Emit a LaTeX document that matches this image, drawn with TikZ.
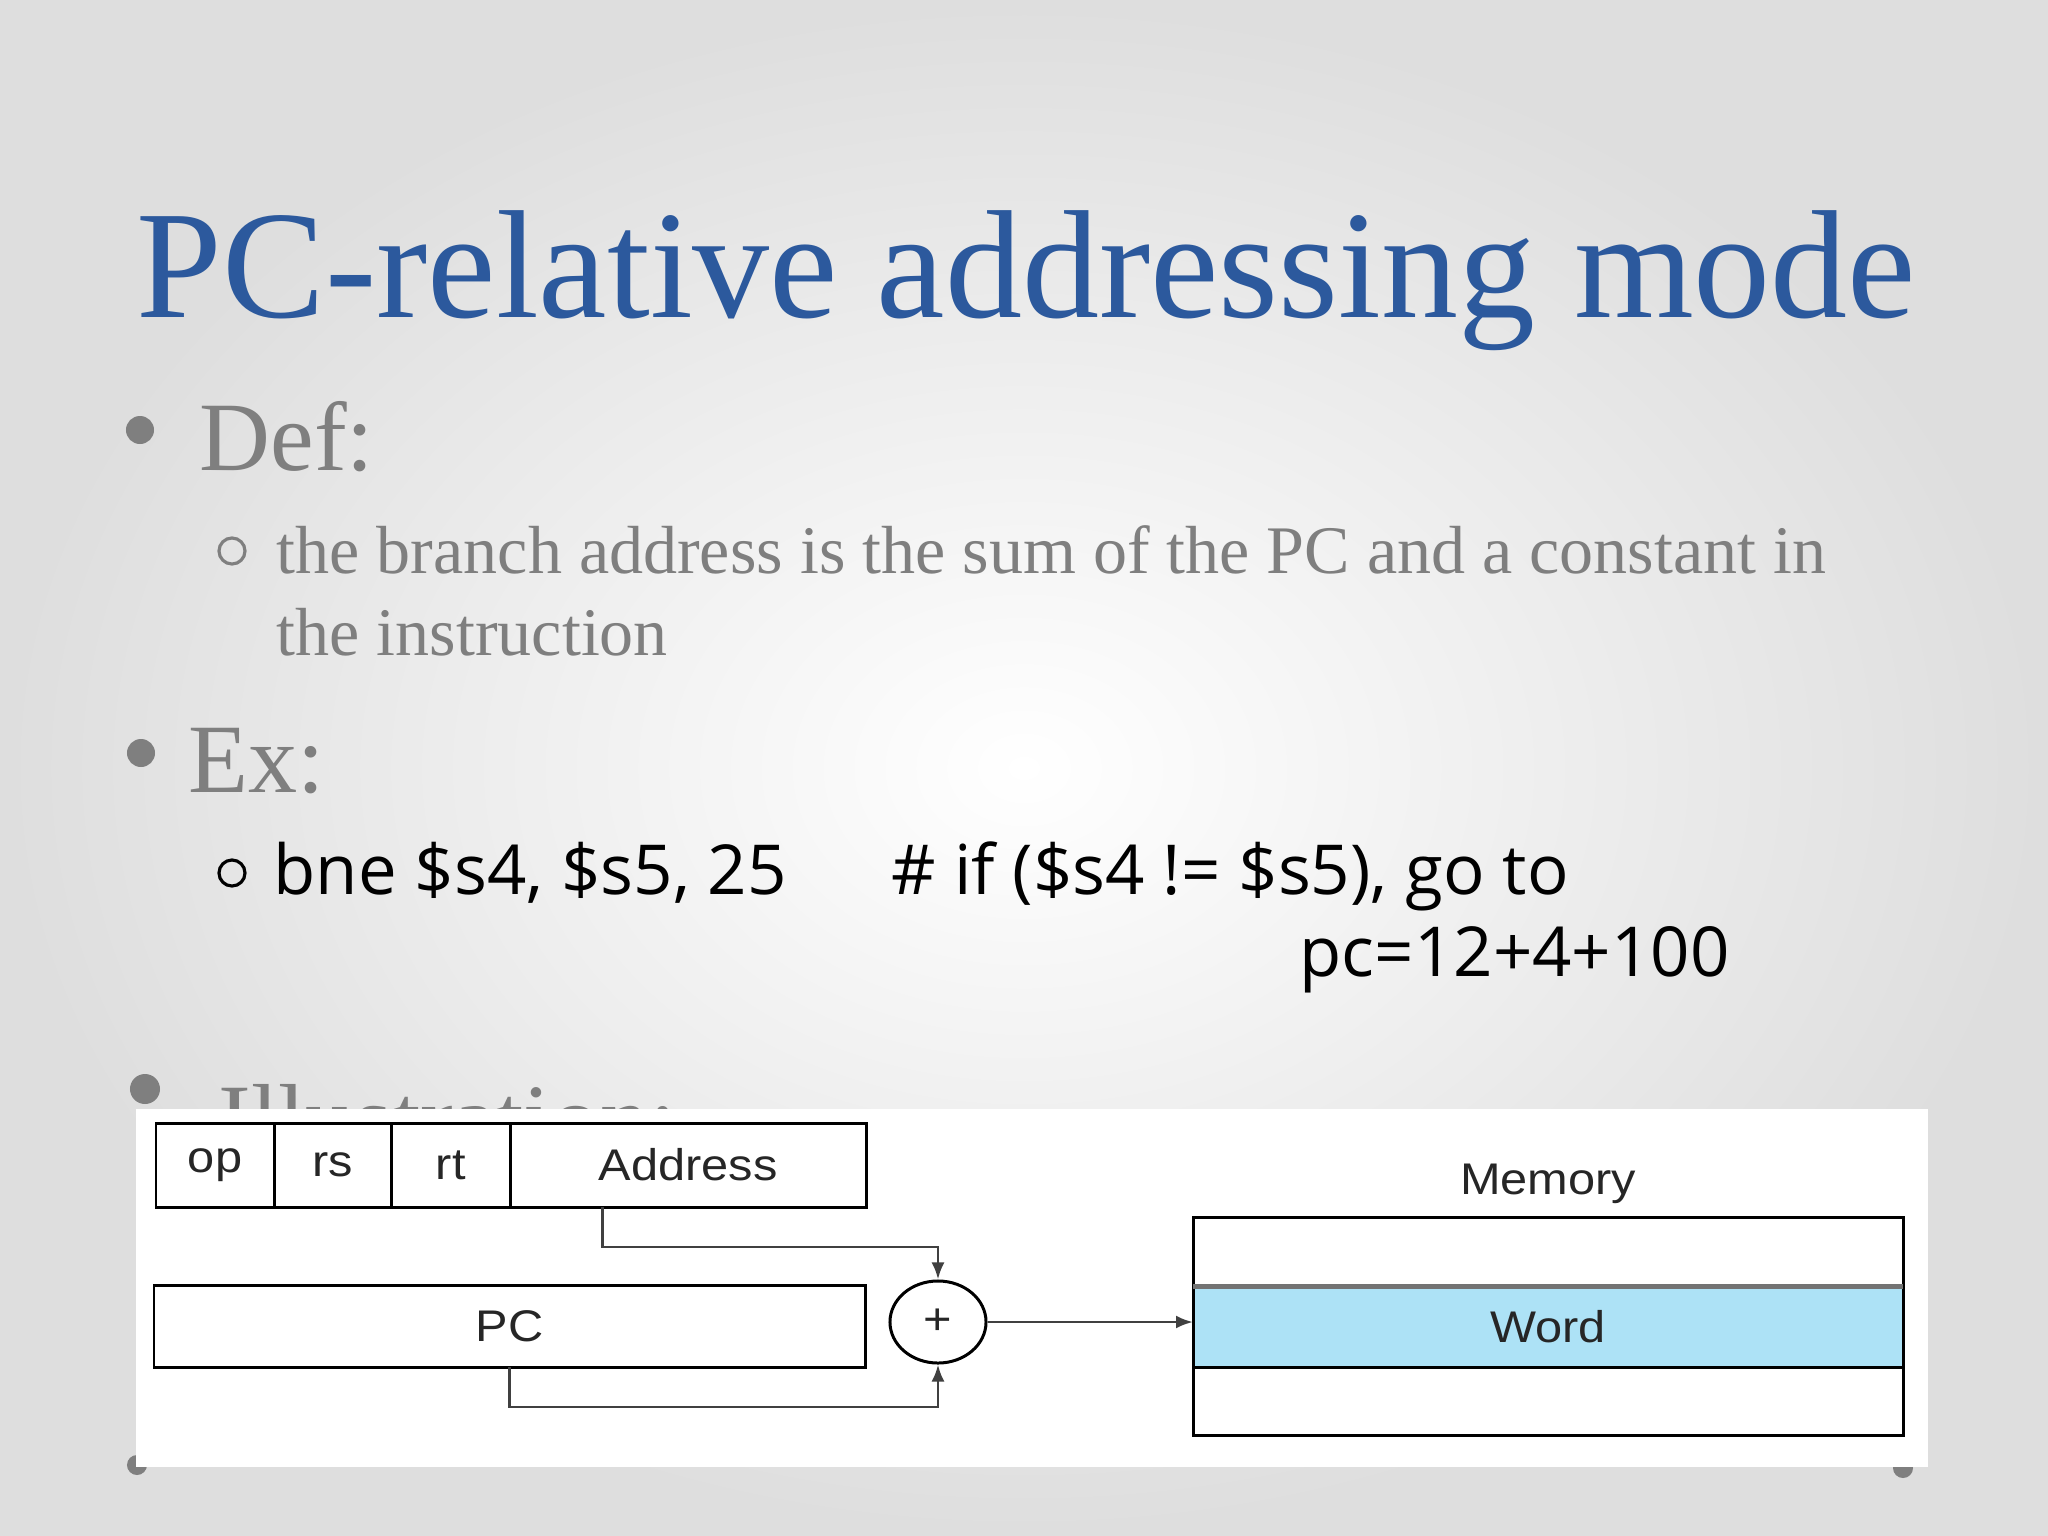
\documentclass[tikz,border=0pt]{standalone}
\usepackage{fontspec}
\setmainfont{Liberation Serif}
\newfontfamily\codefont{Open Sans}
\newfontfamily\figfont[FakeStretch=1.1]{Liberation Sans}
\usepackage{xcolor}
\definecolor{azulTitulo}{HTML}{2C599D}
\definecolor{grisTexto}{HTML}{7F7F7F}
\definecolor{azulPalabra}{HTML}{ADE2F6}
\usetikzlibrary{arrows.meta,positioning,shapes.geometric,calc}

\begin{document}
\begin{tikzpicture}[x=0.01cm,y=-0.01cm,>=Latex,
    nivelUno/.style={anchor=base west,inner sep=0pt,text=grisTexto,font=\fontsize{27.9}{33}\selectfont},
    nivelDos/.style={anchor=base west,inner sep=0pt,text=grisTexto,font=\fontsize{19.35}{23}\selectfont},
    codigo/.style={anchor=base west,inner sep=0pt,text=black,font=\codefont\fontsize{19.6}{23}\selectfont},
    campo/.style={draw,line width=0.85pt,minimum height=0.84cm,inner sep=0pt,outer sep=0pt,
        text=black!85,font=\figfont\fontsize{12.6}{14}\selectfont},
    celda/.style={draw,line width=0.85pt,minimum width=7.1cm,inner sep=0pt,outer sep=0pt,
        text=black!85,font=\figfont\fontsize{12.6}{14}\selectfont},
    flecha/.style={-{Latex[length=1.7mm,width=1.3mm]},line width=0.8pt,draw=black!75}]

% Fondo
\shade[inner color=white,outer color=black!13] (0,0) rectangle (2048,1536);
\useasboundingbox (0,0) rectangle (2048,1536);

% Titulo
\node[anchor=base west,inner sep=0pt,text=azulTitulo,font=\fontsize{43.8}{50}\selectfont]
    (titulo) at (136,317) {PC-relative addressing mode};

% Vinetas
\fill[grisTexto] (140,430) circle (1.4mm);
\fill[grisTexto] (141,753) circle (1.4mm);
\fill[grisTexto] (145,1089) circle (1.5mm);
\draw[grisTexto,line width=0.9pt] (232,551) circle (1.3mm);
\draw[black,line width=0.9pt] (232,873) circle (1.3mm);

% Texto
\node[nivelUno] (def) at (199,470) {Def:};
\node[nivelDos] (defA) at (276,573)
    {the branch address is the sum of the PC and a constant in};
\node[nivelDos] (defB) at (276,655) {the instruction};

\node[nivelUno] (ej) at (188,792) {Ex:};
\node[codigo] (ejA) at (273,894) {bne \$s4, \$s5, 25};
\node[codigo] (ejB) at (891,894) {\# if (\$s4 != \$s5), go to};
\node[codigo] (ejC) at (1299,976) {pc=12+4+100};

\node[nivelUno] (ilus) at (218,1152) {Illustration:};

% Puntos tapados
\fill[grisTexto] (137,1465) circle (1mm);
\fill[grisTexto] (1903,1468) circle (1mm);

% Imagen
\fill[white] (136,1109) rectangle (1928,1467);

% Instruccion
\node[campo,minimum width=1.18cm,anchor=north west] (op) at (156,1123) {op};
\node[campo,minimum width=1.17cm,right=0pt of op] (rs) {rs};
\node[campo,minimum width=1.19cm,right=0pt of rs] (rt) {rt};
\node[campo,minimum width=3.56cm,right=0pt of rt] (dir) {Address};

% PC y sumador
\node[campo,minimum width=7.11cm,minimum height=0.82cm,anchor=north west]
    (pc) at (154,1285) {PC};
\node[draw,ellipse,line width=0.85pt,minimum width=0.96cm,minimum height=0.82cm,
    inner sep=0pt,text=black!85,font=\figfont\fontsize{12.6}{14}\selectfont]
    (suma) at (938,1322) {+};

% Memoria
\node[celda,minimum height=0.69cm,anchor=north west] (memA) at (1193,1217) {};
\node[celda,minimum height=0.81cm,fill=azulPalabra,below=0pt of memA] (memW) {Word};
\node[celda,minimum height=0.68cm,below=0pt of memW] (memB) {};
\draw[line width=1.4pt,black!55] (memW.north west) -- (memW.north east);
\node[inner sep=0pt,text=black!85,font=\figfont\fontsize{12.6}{14}\selectfont,
    above=0.13cm of memA] (mem) {Memory};

% Conexiones
\draw[flecha] ([xshift=9.2mm]dir.south west) -- ++(0,40) -| (suma.north);
\draw[flecha] (pc.south) -- ++(0,40) -| (suma.south);
\draw[flecha] (suma.east) -- (suma.east -| memW.west);

\end{tikzpicture}
\end{document}
